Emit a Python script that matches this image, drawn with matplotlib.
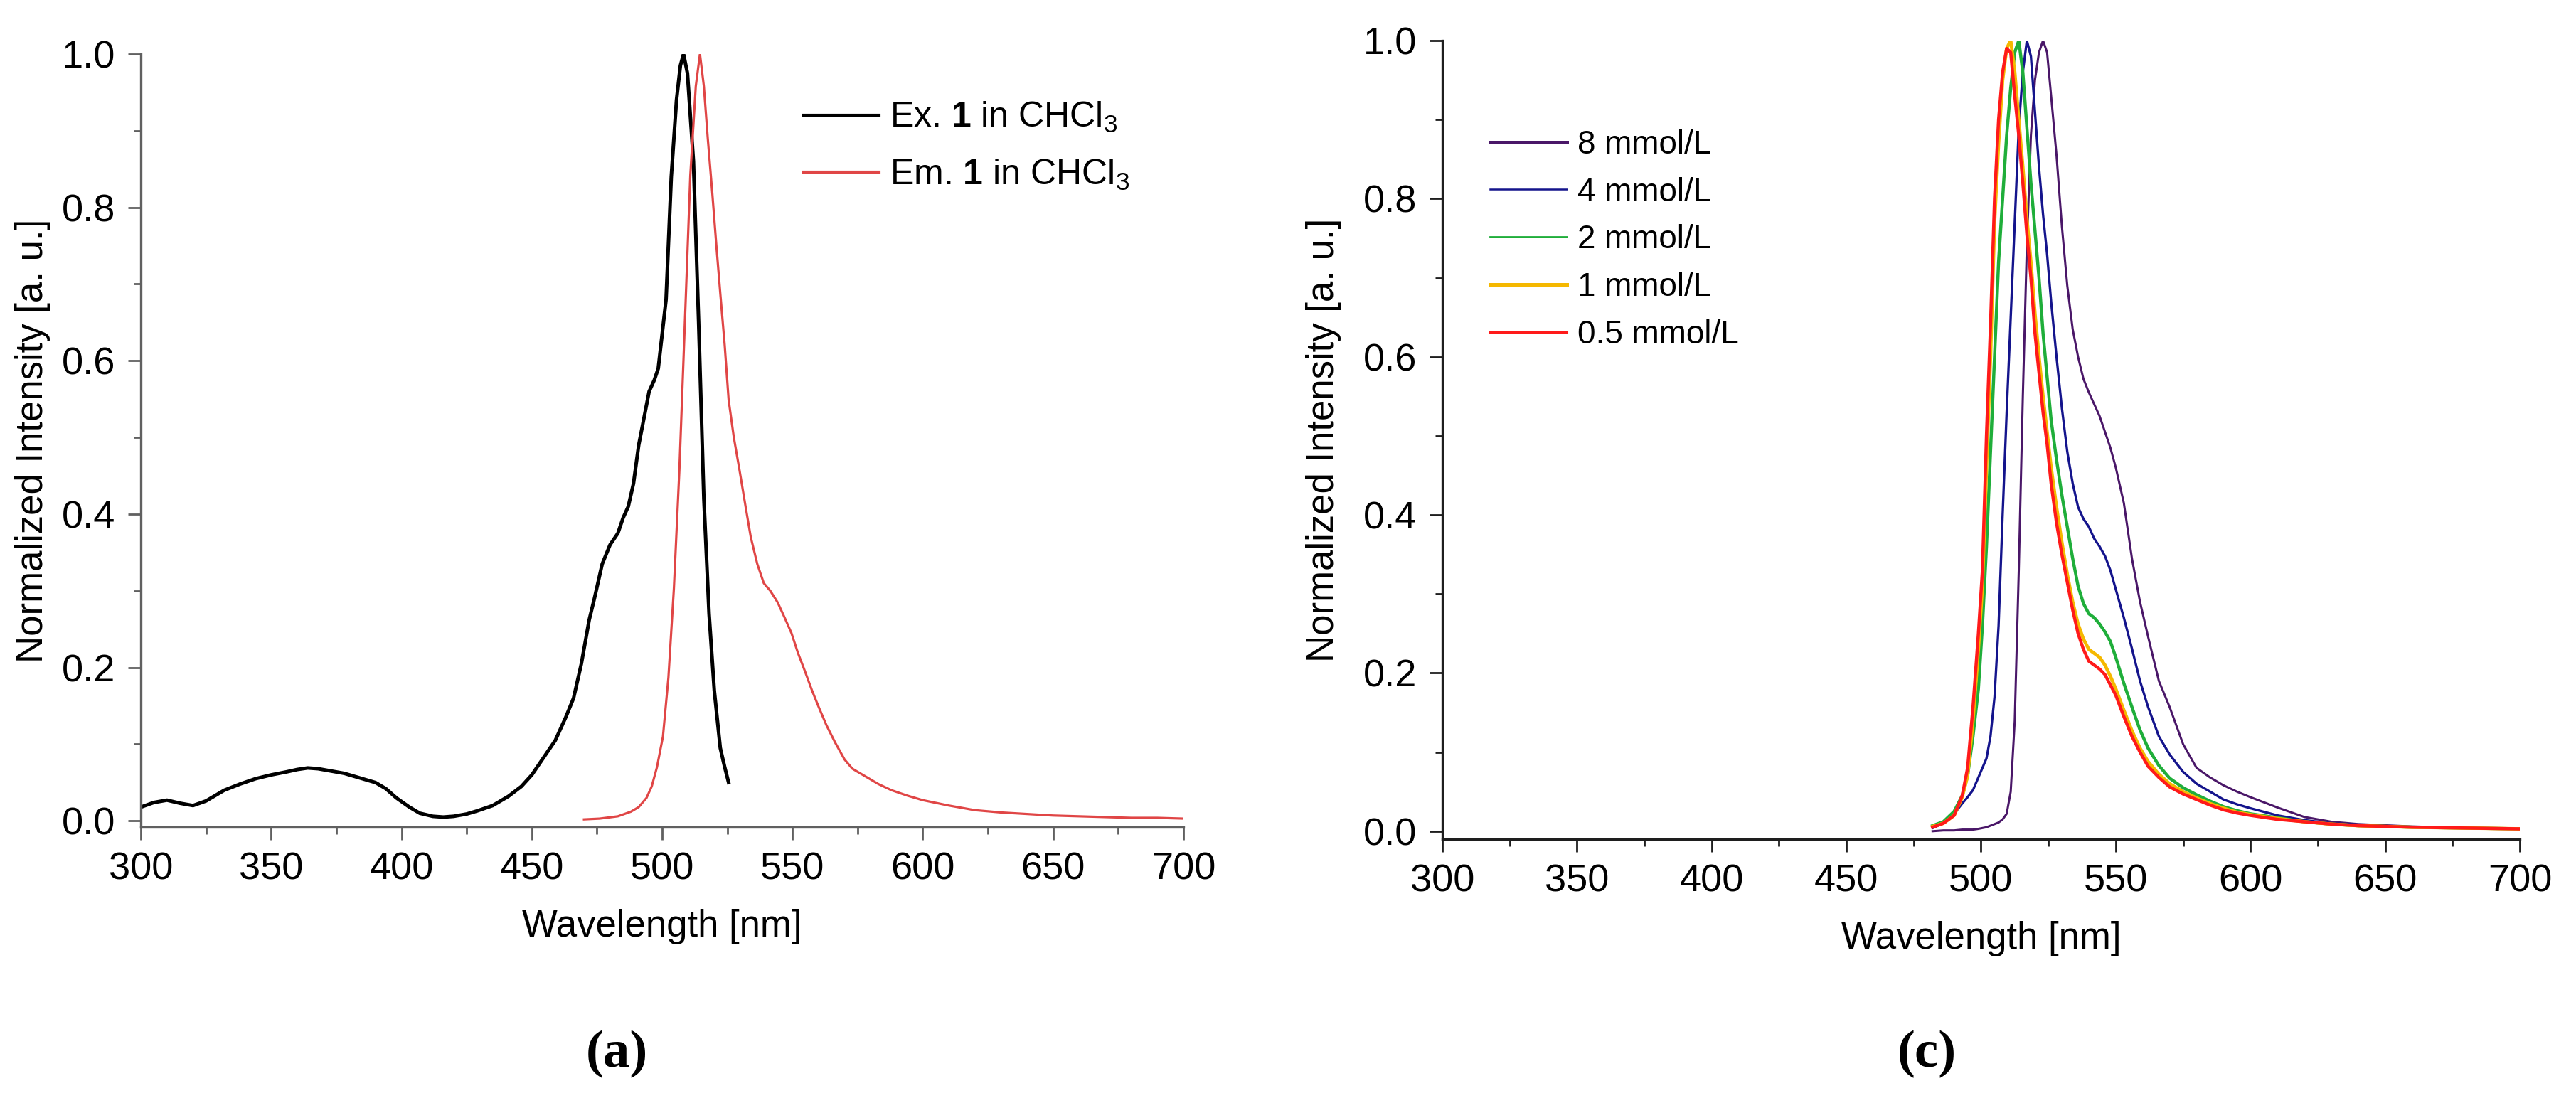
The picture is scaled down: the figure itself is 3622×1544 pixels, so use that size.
import matplotlib
matplotlib.use("Agg")
import matplotlib.pyplot as plt
from matplotlib.ticker import MultipleLocator

plt.rcParams['font.family'] = ['Liberation Sans', 'DejaVu Sans']
plt.rcParams['mathtext.fontset'] = 'custom'
plt.rcParams['mathtext.rm'] = 'Liberation Sans'
plt.rcParams['mathtext.bf'] = 'Liberation Sans:bold'

# ---- panel (a): excitation / emission of 1 in CHCl3 ----
ex_wl = [300, 305, 310, 315, 320, 325, 332, 338, 344, 350,
         356, 360, 364, 368, 373, 378, 385, 390, 394, 398,
         403, 407, 412, 416, 420, 425, 429, 435, 441, 446,
         450, 455, 459, 463, 466, 469, 472, 474, 477, 480,
         483, 485, 487, 489, 491, 493, 495, 497, 498.5, 500,
         501.5, 503.5, 505.5, 507, 508.2, 509.7, 511, 512, 514, 516,
         518, 520, 522.3, 524, 525.5]
ex_int = [0.018, 0.024, 0.027, 0.023, 0.020, 0.026, 0.040, 0.048, 0.055, 0.060,
          0.064, 0.067, 0.069, 0.068, 0.065, 0.062, 0.055, 0.050, 0.042, 0.030,
          0.018, 0.010, 0.006, 0.005, 0.006, 0.009, 0.013, 0.020, 0.032, 0.045,
          0.060, 0.085, 0.105, 0.135, 0.160, 0.205, 0.262, 0.290, 0.335, 0.360,
          0.375, 0.395, 0.410, 0.440, 0.490, 0.525, 0.560, 0.575, 0.590, 0.635,
          0.680, 0.840, 0.940, 0.985, 1.000, 0.975, 0.910, 0.860, 0.650, 0.420,
          0.270, 0.170, 0.095, 0.070, 0.050]

em_wl = [470, 476, 483, 488, 491, 494, 496, 498, 500.3, 502.4,
         504.5, 506.6, 508.7, 510.8, 512.9, 514.5, 516, 517.5, 519.2, 520.8,
         522.3, 524, 525.5, 527.5, 529.7, 532, 534, 536.5, 539, 541.5,
         544.3, 547, 549.6, 552, 554.8, 557.5, 560, 563, 566.4, 570,
         573, 578, 583, 588, 594, 600, 610, 620, 630, 640,
         650, 660, 670, 680, 690, 700]
em_int = [0.002, 0.003, 0.006, 0.012, 0.018, 0.030, 0.045, 0.070, 0.110, 0.187,
          0.303, 0.457, 0.649, 0.842, 0.958, 1.000, 0.958, 0.890, 0.820, 0.750,
          0.688, 0.620, 0.549, 0.500, 0.457, 0.410, 0.370, 0.335, 0.310, 0.300,
          0.285, 0.265, 0.245, 0.220, 0.195, 0.170, 0.149, 0.125, 0.102, 0.080,
          0.068, 0.058, 0.048, 0.040, 0.033, 0.027, 0.020, 0.014, 0.011, 0.009,
          0.007, 0.006, 0.005, 0.004, 0.004, 0.003]

# ---- panel (c): emission at different concentrations ----
conc_wl = [482, 486, 490, 493, 495, 497, 499, 500.5, 502, 503.5,
           505, 506.5, 508, 509.5, 511, 512.5, 514, 515.5, 517, 518.5,
           520, 521.5, 523, 524.5, 526, 528, 530, 532, 534, 536,
           538, 540, 542, 544, 546, 548, 550, 553, 556, 559,
           562, 566, 570, 575, 580, 585, 590, 595, 600, 610,
           620, 630, 640, 660, 680, 700]
int_8 = [0.000, 0.001, 0.001, 0.002, 0.002, 0.002, 0.003, 0.004, 0.005, 0.007,
         0.009, 0.011, 0.015, 0.022, 0.050, 0.140, 0.330, 0.550, 0.740, 0.880,
         0.950, 0.985, 1.000, 0.985, 0.930, 0.855, 0.765, 0.690, 0.635, 0.600,
         0.572, 0.555, 0.540, 0.525, 0.505, 0.485, 0.460, 0.415, 0.345, 0.290,
         0.246, 0.190, 0.157, 0.110, 0.080, 0.068, 0.058, 0.050, 0.043, 0.030,
         0.018, 0.012, 0.009, 0.006, 0.004, 0.003]
int_4 = [0.004, 0.010, 0.022, 0.035, 0.043, 0.052, 0.068, 0.080, 0.092, 0.120,
         0.170, 0.260, 0.400, 0.530, 0.650, 0.770, 0.890, 0.960, 1.000, 0.980,
         0.910, 0.840, 0.780, 0.730, 0.670, 0.600, 0.535, 0.480, 0.440, 0.410,
         0.395, 0.385, 0.370, 0.360, 0.348, 0.330, 0.306, 0.270, 0.231, 0.190,
         0.157, 0.120, 0.097, 0.075, 0.060, 0.050, 0.040, 0.034, 0.029, 0.020,
         0.014, 0.010, 0.008, 0.005, 0.004, 0.003]
int_2 = [0.007, 0.012, 0.025, 0.045, 0.070, 0.120, 0.180, 0.260, 0.360, 0.480,
         0.600, 0.720, 0.800, 0.880, 0.940, 0.985, 1.000, 0.960, 0.890, 0.820,
         0.760, 0.700, 0.630, 0.575, 0.520, 0.470, 0.425, 0.385, 0.345, 0.310,
         0.288, 0.275, 0.270, 0.262, 0.252, 0.240, 0.220, 0.187, 0.157, 0.128,
         0.105, 0.083, 0.067, 0.055, 0.046, 0.038, 0.031, 0.026, 0.022, 0.017,
         0.012, 0.009, 0.007, 0.005, 0.004, 0.003]
int_1 = [0.006, 0.010, 0.020, 0.043, 0.070, 0.140, 0.230, 0.310, 0.460, 0.600,
         0.770, 0.870, 0.950, 0.990, 1.000, 0.960, 0.900, 0.840, 0.775, 0.720,
         0.655, 0.600, 0.550, 0.505, 0.460, 0.410, 0.365, 0.325, 0.290, 0.262,
         0.243, 0.230, 0.225, 0.220, 0.210, 0.196, 0.180, 0.153, 0.127, 0.105,
         0.088, 0.072, 0.060, 0.050, 0.042, 0.035, 0.029, 0.024, 0.021, 0.016,
         0.012, 0.009, 0.007, 0.005, 0.004, 0.003]
int_05 = [0.005, 0.010, 0.020, 0.045, 0.080, 0.157, 0.250, 0.330, 0.500, 0.640,
          0.800, 0.900, 0.960, 0.990, 0.985, 0.930, 0.880, 0.820, 0.755, 0.700,
          0.630, 0.580, 0.530, 0.490, 0.440, 0.390, 0.350, 0.315, 0.280, 0.250,
          0.230, 0.215, 0.210, 0.205, 0.198, 0.185, 0.172, 0.145, 0.120, 0.100,
          0.082, 0.068, 0.056, 0.047, 0.040, 0.033, 0.027, 0.023, 0.020, 0.015,
          0.012, 0.009, 0.007, 0.005, 0.004, 0.003]

conc_labels = ['8 mmol/L', '4 mmol/L', '2 mmol/L', '1 mmol/L', '0.5 mmol/L']
conc_colors = ['#4a1768', '#14148c', '#1fae3a', '#f5b800', '#ff1a1a']
conc_lw = [2.2, 2.4, 3.2, 3.4, 3.2]
conc_series = [int_8, int_4, int_2, int_1, int_05]

TICK_FS = 39
LABEL_FS = 38


def style_axes(ax, spine_color):
    for side in ['top', 'right']:
        ax.spines[side].set_visible(False)
    for side in ['left', 'bottom']:
        ax.spines[side].set_color(spine_color)
        ax.spines[side].set_linewidth(2.4)
    ax.set_xlim(300, 700)
    ax.xaxis.set_major_locator(MultipleLocator(50))
    ax.xaxis.set_minor_locator(MultipleLocator(25))
    ax.yaxis.set_major_locator(MultipleLocator(0.2))
    ax.yaxis.set_minor_locator(MultipleLocator(0.1))
    ax.yaxis.set_major_formatter(plt.FuncFormatter(lambda v, p: f"{v:.1f}"))
    ax.tick_params(which='major', direction='out', length=13, width=2,
                   color=spine_color, labelsize=TICK_FS)
    ax.tick_params(which='minor', direction='out', length=7, width=2,
                   color=spine_color)
    ax.tick_params(axis='x', which='major', pad=12)
    ax.tick_params(axis='y', which='major', pad=13)
    ax.set_xlabel('Wavelength [nm]', fontsize=LABEL_FS, labelpad=22)
    ax.set_ylabel('Normalized Intensity [a. u.]', fontsize=LABEL_FS, va='center')


fig = plt.figure(figsize=(36.22, 15.44), dpi=100)

# panel (a)
ax1 = fig.add_axes([0.0547, 0.2468, 0.4047, 0.7040])
ax1.plot(ex_wl, ex_int, color='black', lw=3.6, label='Ex. $\\mathbf{1}$ in CHCl$_3$')
ax1.plot(em_wl, em_int, color='#e04646', lw=2.3, label='Em. $\\mathbf{1}$ in CHCl$_3$')
ax1.set_ylim(-0.008, 1.0)
style_axes(ax1, '#606060')
ax1.yaxis.set_label_coords(-0.104, 0.5)
leg1 = ax1.legend(loc='upper left', bbox_to_anchor=(0.6355, 0.940), frameon=False,
                  fontsize=36, handlelength=2.12, handletextpad=0.3,
                  labelspacing=0.65, borderpad=0, borderaxespad=0)
for ln in leg1.get_lines():
    ln.set_linewidth(3.0)

# panel (c)
ax2 = fig.add_axes([0.5599, 0.2358, 0.4183, 0.7273])
for vals, lab, col, lw in zip(conc_series, conc_labels, conc_colors, conc_lw):
    ax2.plot(conc_wl, vals, color=col, lw=lw, label=lab)
ax2.set_ylim(-0.01, 1.0)
style_axes(ax2, '#1e1e1e')
ax2.yaxis.set_label_coords(-0.110, 0.5)
leg2 = ax2.legend(loc='upper left', bbox_to_anchor=(0.044, 0.889), frameon=False,
                  fontsize=33, handlelength=2.36, handletextpad=0.33,
                  labelspacing=0.5, borderpad=0, borderaxespad=0)
for ln, w in zip(leg2.get_lines(), [3.6, 1.8, 2.0, 3.6, 2.2]):
    ln.set_linewidth(w)

# panel letters
fig.text(867 / 3622, 1 - 1482 / 1544, '(a)', family='Liberation Serif',
         fontweight='bold', fontsize=54, ha='center', va='center')
fig.text(2709 / 3622, 1 - 1482 / 1544, '(c)', family='Liberation Serif',
         fontweight='bold', fontsize=54, ha='center', va='center')

fig.savefig('out.png', dpi=100, facecolor='white')
